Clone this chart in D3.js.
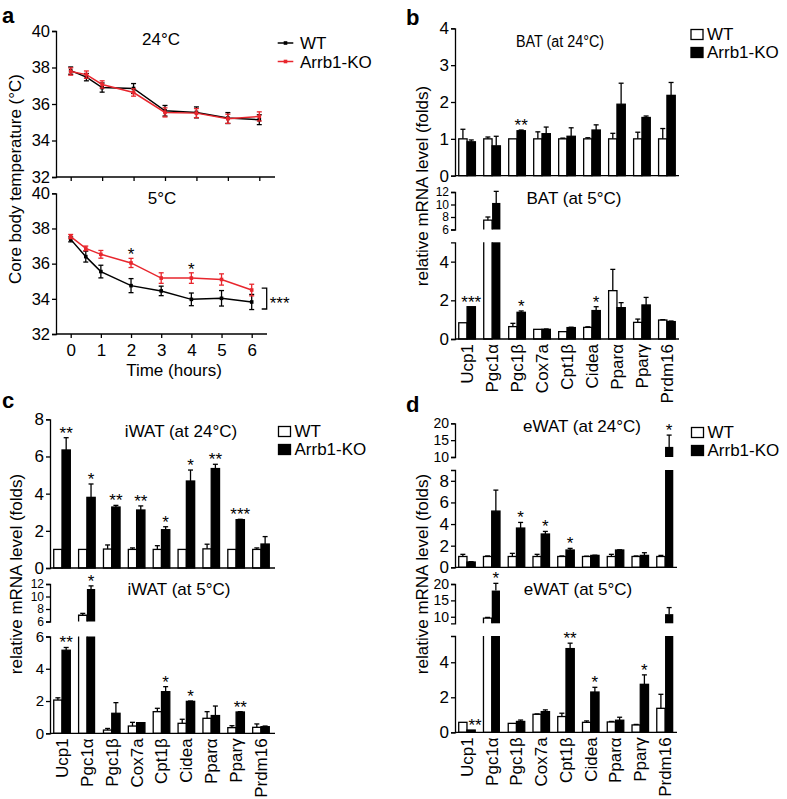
<!DOCTYPE html>
<html><head><meta charset="utf-8">
<script src="https://cdn.jsdelivr.net/npm/d3@7"></script>
<style>body{margin:0;background:#fff} svg text{font-family:"Liberation Sans",Arial,Helvetica,sans-serif;}</style>
</head><body>
<svg id="fig" width="787" height="799"></svg>
<script>
// ---------- Panel a data ----------
const timeA = [0, 0.5, 1, 2, 3, 4, 5, 6];
const timeTicks = [0, 1, 2, 3, 4, 5, 6];
const tempTicks = [32, 34, 36, 38, 40];
const wt24 = [37.83, 37.47, 36.9, 36.85, 35.63, 35.54, 35.23, 35.14];
const wt24Err = [0.2, 0.2, 0.25, 0.27, 0.29, 0.3, 0.3, 0.27];
const ko24 = [37.78, 37.61, 37.07, 36.63, 35.54, 35.5, 35.19, 35.32];
const ko24Err = [0.2, 0.2, 0.2, 0.2, 0.25, 0.25, 0.25, 0.25];
const wt5 = [37.38, 36.4, 35.55, 34.75, 34.45, 33.97, 34.03, 33.82];
const wt5Err = [0.14, 0.31, 0.36, 0.4, 0.27, 0.36, 0.44, 0.43];
const ko5 = [37.54, 36.87, 36.53, 36.04, 35.18, 35.18, 35.1, 34.5];
const ko5Err = [0.12, 0.13, 0.22, 0.26, 0.3, 0.3, 0.32, 0.33];
const sig5 = ["", "", "", "*", "", "*", "", ""];
const seriesNames = ["WT", "Arrb1-KO"];

// ---------- Bar panels data ----------
const genes = ["Ucp1", "Pgc1\u03b1", "Pgc1\u03b2", "Cox7a", "Cpt1\u03b2", "Cidea", "Ppar\u03b1", "Ppar\u03b3", "Prdm16"];

const batWt24 = [1, 1, 1, 1, 1, 1, 1, 1, 1];
const batWt24Err = [0.26, 0.05, 0, 0.19, 0.02, 0.03, 0.15, 0.18, 0.28];
const batKo24 = [0.92, 0.81, 1.22, 1.14, 1.07, 1.24, 1.94, 1.58, 2.18];
const batKo24Err = [0.05, 0.26, 0.02, 0.18, 0.23, 0.14, 0.57, 0.04, 0.35];
const batSig24 = ["", "", "**", "", "", "", "", "", ""];

const batWt5 = [0.84, 7.5, 0.64, 0.5, 0.38, 0.6, 2.5, 0.86, 0.98];
const batWt5Err = [0, 0.5, 0.17, 0, 0, 0.03, 1.1, 0.17, 0.02];
const batKo5 = [1.67, 10.25, 1.38, 0.5, 0.59, 1.47, 1.62, 1.76, 0.9];
const batKo5Err = [0, 1.85, 0.07, 0.02, 0.02, 0.2, 0.26, 0.39, 0.03];
const batSig5 = ["***", "", "*", "", "", "*", "", "", ""];

const iwatWt24 = [1, 1, 1.02, 1, 1, 1, 1.03, 1, 1];
const iwatWt24Err = [0, 0, 0.22, 0.08, 0.2, 0, 0.25, 0, 0.08];
const iwatKo24 = [6.35, 3.8, 3.28, 3.12, 2.06, 4.68, 5.35, 2.6, 1.29];
const iwatKo24Err = [0.66, 0.72, 0.09, 0.22, 0.16, 0.59, 0.23, 0.02, 0.4];
const iwatSig24 = ["**", "*", "**", "**", "*", "*", "**", "***", ""];

const iwatWt5 = [2.06, 7.0, 0.2, 0.45, 1.34, 0.62, 0.93, 0.35, 0.37];
const iwatWt5Err = [0.14, 0.3, 0.1, 0.23, 0.21, 0.25, 0.41, 0.12, 0.21];
const iwatKo5 = [5.15, 11.2, 1.24, 0.66, 2.58, 1.98, 1.1, 1.32, 0.41];
const iwatKo5Err = [0.17, 0.5, 0.66, 0, 0.31, 0.02, 0.59, 0.02, 0.04];
const iwatSig5 = ["**", "*", "", "", "*", "*", "", "**", ""];

const ewatWt24 = [1, 1, 1, 1, 1, 1, 1, 1, 1];
const ewatWt24Err = [0.2, 0.05, 0.29, 0.2, 0.05, 0.03, 0.2, 0.05, 0.1];
const ewatKo24 = [0.49, 5.2, 3.63, 3.08, 1.6, 1.1, 1.6, 1.1, 13];
const ewatKo24Err = [0.03, 1.94, 0.52, 0.24, 0.15, 0.02, 0.02, 0.25, 3.5];
const ewatSig24 = ["", "", "*", "*", "*", "", "", "", "*"];

const ewatWt5 = [0.57, 9.6, 0.51, 1.03, 0.9, 0.57, 0.59, 0.42, 1.37];
const ewatWt5Err = [0, 0.2, 0, 0.02, 0.19, 0.08, 0.03, 0.03, 0.8];
const ewatKo5 = [0.13, 18, 0.62, 1.18, 4.78, 2.3, 0.69, 2.74, 10.8];
const ewatKo5Err = [0, 2.2, 0.08, 0.1, 0.31, 0.27, 0.17, 0.54, 2.0];
const ewatSig5 = ["**", "*", "", "", "**", "*", "", "*", ""];

// ---------- drawing ----------
const FONT = '"Liberation Sans", Arial, Helvetica, sans-serif';
const FS = 17;
const SW = 1.3;
const RED = "#e8262d";
const svg = d3.select("#fig");

function styleAxis(sel, fs) {
  sel.attr("font-size", fs || FS).attr("font-family", FONT);
  sel.selectAll("path,line").attr("stroke", "#000").attr("stroke-width", SW);
  sel.selectAll("text").attr("fill", "#000");
}

function text(x, y, s, opts = {}) {
  const t = svg.append("text").attr("x", x).attr("y", y).text(s)
    .attr("font-size", opts.size || FS).attr("fill", "#000")
    .attr("text-anchor", opts.anchor || "start");
  if (opts.bold) t.attr("font-weight", "bold");
  if (opts.len) t.attr("textLength", opts.len).attr("lengthAdjust", "spacingAndGlyphs");
  return t;
}

function vtext(x, y, s) {
  svg.append("text").attr("transform", `translate(${x},${y}) rotate(-90)`)
    .attr("text-anchor", "middle").attr("font-size", FS).attr("fill", "#000").text(s);
}

// ----- Panel a -----
function linePanel(cfg) {
  const x = d3.scaleLinear().domain([0, 6]).range(cfg.xr);
  const y = d3.scaleLinear().domain([32, 40]).range(cfg.yr);
  const g = svg.append("g");
  g.append("g").attr("transform", `translate(${cfg.axisX},0)`)
    .call(d3.axisLeft(y).tickValues(tempTicks).tickSize(4).tickSizeOuter(4).tickPadding(2))
    .call(s => styleAxis(s, 16.5));
  const xa = g.append("g").attr("transform", `translate(0,${y(32)})`)
    .call(d3.axisBottom(x).tickValues(timeTicks).tickSize(4).tickSizeOuter(0).tickPadding(6)
      .tickFormat(cfg.labels ? d3.format("d") : () => ""))
    .call(s => styleAxis(s));
  xa.select(".domain").remove();
  g.append("line").attr("x1", cfg.axisX).attr("x2", cfg.xEnd).attr("y1", y(32)).attr("y2", y(32))
    .attr("stroke", "#000").attr("stroke-width", SW);

  const series = [
    { v: cfg.wt, e: cfg.wtErr, c: "#000" },
    { v: cfg.ko, e: cfg.koErr, c: RED }
  ];
  series.forEach(s => {
    const pts = timeA.map((t, i) => ({ t, v: s.v[i], e: s.e[i] }));
    g.append("path").datum(pts)
      .attr("d", d3.line().x(d => x(d.t)).y(d => y(d.v)))
      .attr("fill", "none").attr("stroke", s.c).attr("stroke-width", 1.5);
    const eb = g.append("g").selectAll("g").data(pts).join("g");
    eb.append("line").attr("x1", d => x(d.t)).attr("x2", d => x(d.t))
      .attr("y1", d => y(d.v - d.e)).attr("y2", d => y(d.v + d.e))
      .attr("stroke", s.c).attr("stroke-width", 1.3);
    [-1, 1].forEach(sg => {
      eb.append("line").attr("x1", d => x(d.t) - 2.5).attr("x2", d => x(d.t) + 2.5)
        .attr("y1", d => y(d.v + sg * d.e)).attr("y2", d => y(d.v + sg * d.e))
        .attr("stroke", s.c).attr("stroke-width", 1.3);
    });
    eb.append("rect").attr("x", d => x(d.t) - 1.8).attr("y", d => y(d.v) - 1.8)
      .attr("width", 3.6).attr("height", 3.6).attr("fill", s.c);
  });
  if (cfg.sig) {
    timeA.forEach((t, i) => {
      if (cfg.sig[i]) text(x(t), y(cfg.ko[i] + cfg.koErr[i]) - 8 + 10, cfg.sig[i], { anchor: "middle" });
    });
    const bx = x(6) + 10, y1 = y(cfg.ko[7]) - 2, y2 = y(cfg.wt[7]) + 7;
    g.append("path").attr("d", `M${bx},${y1}H${bx + 5}V${y2}H${bx}`)
      .attr("fill", "none").attr("stroke", "#000").attr("stroke-width", SW);
    text(bx + 8, (y1 + y2) / 2 + 10, "***");
  }
  text(cfg.titleX, cfg.titleY, cfg.title, { anchor: "middle" });
  return { x, y };
}

linePanel({ xr: [70.7, 259.3], yr: [177, 31], axisX: 56, xEnd: 275, labels: false,
  wt: wt24, wtErr: wt24Err, ko: ko24, koErr: ko24Err, title: "24\u00b0C", titleX: 161, titleY: 45 });
linePanel({ xr: [70.7, 251.7], yr: [334, 193.3], axisX: 56, xEnd: 267, labels: true,
  wt: wt5, wtErr: wt5Err, ko: ko5, koErr: ko5Err, sig: sig5, title: "5\u00b0C", titleX: 162, titleY: 203.5 });
text(174, 376, "Time (hours)", { anchor: "middle" });
vtext(21, 179, "Core body temperature (\u00b0C)");
[[seriesNames[0], "#000", 43], [seriesNames[1], RED, 61.5]].forEach(([n, c, yy]) => {
  svg.append("line").attr("x1", 277.7).attr("x2", 293.3).attr("y1", yy).attr("y2", yy).attr("stroke", c).attr("stroke-width", 1.5);
  svg.append("rect").attr("x", 285.5 - 1.8).attr("y", yy - 1.8).attr("width", 3.6).attr("height", 3.6).attr("fill", c);
  text(300, yy + 6, n);
});

// ----- Bar panels -----
function barPanel(cfg) {
  const xb = d3.scaleBand().domain(genes).range(cfg.band).paddingInner(0.333).paddingOuter(0.15);
  const bw = xb.bandwidth() / 2;
  const segs = cfg.segs.map(s => Object.assign({}, s, { sc: d3.scaleLinear().domain(s.domain).range(s.range) }));
  const lower = segs[0], upper = segs[1];
  const g = svg.append("g");
  segs.forEach((s, si) => {
    g.append("g").attr("transform", `translate(${cfg.axisX},0)`)
      .call(d3.axisLeft(s.sc).tickValues(s.ticks).tickSize(4).tickSizeOuter(4).tickPadding(2).tickFormat(d3.format("d")))
      .call(sel => styleAxis(sel, s.fs));
  });
  const y0 = lower.sc(0);
  const scaleFor = v => (upper && v > lower.domain[1]) ? upper.sc : lower.sc;

  const series = [
    { v: cfg.wt, e: cfg.wtErr, fill: "#fff", off: 0 },
    { v: cfg.ko, e: cfg.koErr, fill: "#000", off: bw }
  ];
  series.forEach(s => {
    genes.forEach((gname, i) => {
      const v = s.v[i], e = s.e[i];
      const x = xb(gname) + s.off;
      const broken = upper && v > lower.domain[1];
      if (!broken) {
        g.append("rect").attr("x", x).attr("y", lower.sc(v)).attr("width", bw).attr("height", y0 - lower.sc(v))
          .attr("fill", s.fill).attr("stroke", "#000").attr("stroke-width", SW);
      } else {
        const lt = lower.sc(lower.domain[1]);
        const ub = upper.sc(upper.domain[0]), ut = upper.sc(v);
        if (s.fill === "#000") {
          g.append("rect").attr("x", x).attr("y", lt).attr("width", bw).attr("height", y0 - lt).attr("fill", "#000");
          g.append("rect").attr("x", x).attr("y", ut).attr("width", bw).attr("height", ub - ut).attr("fill", "#000");
        } else {
          g.append("path").attr("d", `M${x},${lt}V${y0}H${x + bw}V${lt}`)
            .attr("fill", "#fff").attr("stroke", "#000").attr("stroke-width", SW);
          g.append("path").attr("d", `M${x},${ub}V${ut}H${x + bw}V${ub}`)
            .attr("fill", "#fff").attr("stroke", "#000").attr("stroke-width", SW);
        }
      }
      if (e > 0) {
        const sc = scaleFor(v);
        const cx = x + bw / 2;
        g.append("line").attr("x1", cx).attr("x2", cx).attr("y1", sc(v)).attr("y2", sc(v + e))
          .attr("stroke", "#000").attr("stroke-width", SW);
        g.append("line").attr("x1", cx - 2.5).attr("x2", cx + 2.5).attr("y1", sc(v + e)).attr("y2", sc(v + e))
          .attr("stroke", "#000").attr("stroke-width", SW);
      }
    });
  });
  genes.forEach((gname, i) => {
    const lab = cfg.sig[i];
    if (!lab) return;
    const top = cfg.ko[i] + cfg.koErr[i];
    const yy = scaleFor(cfg.ko[i])(top) - 9 + 10;
    const dx = (cfg.ko[i] < 0.3) ? 4 : 0;
    text(xb(gname) + bw * 1.5 + dx, yy, lab, { anchor: "middle" });
  });
  g.append("line").attr("x1", cfg.axisX).attr("x2", cfg.xEnd).attr("y1", y0).attr("y2", y0)
    .attr("stroke", "#000").attr("stroke-width", SW);
  if (cfg.labels) {
    genes.forEach(gname => {
      svg.append("text").attr("transform", `translate(${xb(gname) + bw},${y0 + 5}) rotate(-90)`)
        .attr("text-anchor", "end").attr("dy", "0.35em").attr("font-size", FS).attr("fill", "#000").text(gname);
    });
  }
  text(cfg.titleX, cfg.titleY, cfg.title, { anchor: "middle", len: cfg.titleLen, size: cfg.titleSize });
}

function legend(x, y1, y2) {
  [[seriesNames[0], "#fff", y1], [seriesNames[1], "#000", y2]].forEach(([n, f, yy]) => {
    svg.append("rect").attr("x", x).attr("y", yy).attr("width", 12).attr("height", 10)
      .attr("fill", f).attr("stroke", "#000").attr("stroke-width", SW);
    text(x + 16, yy + 10.5, n);
  });
}

// b
barPanel({ wt: batWt24, wtErr: batWt24Err, ko: batKo24, koErr: batKo24Err, sig: batSig24,
  axisX: 455, xEnd: 679, band: [455, 679],
  segs: [{ domain: [0, 4], range: [175.7, 28.3], ticks: [0, 1, 2, 3, 4] }],
  title: "BAT (at 24\u00b0C)", titleX: 560, titleY: 47, titleLen: 88, titleSize: 16 });
barPanel({ wt: batWt5, wtErr: batWt5Err, ko: batKo5, koErr: batKo5Err, sig: batSig5,
  axisX: 455, xEnd: 679, band: [455, 679], labels: true,
  segs: [{ domain: [0, 5], range: [339, 242.3], ticks: [0, 2, 4] },
         { domain: [6, 12], range: [229.5, 192], ticks: [6, 8, 10, 12], fs: 12 }],
  title: "BAT (at 5\u00b0C)", titleX: 574, titleY: 203.5 });
legend(691, 29.5, 47.5);
vtext(428, 186, "relative mRNA level (folds)");

// c
barPanel({ wt: iwatWt24, wtErr: iwatWt24Err, ko: iwatKo24, koErr: iwatKo24Err, sig: iwatSig24,
  axisX: 50, xEnd: 275, band: [50, 273],
  segs: [{ domain: [0, 8], range: [568, 419.3], ticks: [0, 2, 4, 6, 8] }],
  title: "iWAT (at 24\u00b0C)", titleX: 181, titleY: 437 });
barPanel({ wt: iwatWt5, wtErr: iwatWt5Err, ko: iwatKo5, koErr: iwatKo5Err, sig: iwatSig5,
  axisX: 50, xEnd: 275, band: [50, 273], labels: true,
  segs: [{ domain: [0, 6], range: [733.3, 636.5], ticks: [0, 2, 4, 6], fs: 15 },
         { domain: [6, 12], range: [621.5, 584], ticks: [6, 8, 10, 12], fs: 12 }],
  title: "iWAT (at 5\u00b0C)", titleX: 179, titleY: 595 });
legend(278.5, 426.5, 444.5);
vtext(22, 574, "relative mRNA level (folds)");

// d
barPanel({ wt: ewatWt24, wtErr: ewatWt24Err, ko: ewatKo24, koErr: ewatKo24Err, sig: ewatSig24,
  axisX: 455, xEnd: 677, band: [455, 677],
  segs: [{ domain: [0, 9], range: [567.3, 470], ticks: [0, 2, 4, 6, 8] },
         { domain: [10, 20], range: [457, 423.3], ticks: [10, 15, 20], fs: 14 }],
  title: "eWAT (at 24\u00b0C)", titleX: 582, titleY: 432 });
barPanel({ wt: ewatWt5, wtErr: ewatWt5Err, ko: ewatKo5, koErr: ewatKo5Err, sig: ewatSig5,
  axisX: 455, xEnd: 677, band: [455, 677], labels: true,
  segs: [{ domain: [0, 5.5], range: [732.3, 636], ticks: [0, 2, 4] },
         { domain: [8, 20], range: [623.3, 584], ticks: [10, 15, 20], fs: 14 }],
  title: "eWAT (at 5\u00b0C)", titleX: 578, titleY: 595 });
legend(691.5, 427.5, 445.5);
vtext(428, 574, "relative mRNA level (folds)");

// panel letters
text(2, 23, "a", { size: 22, bold: true });
text(406, 25, "b", { size: 22, bold: true });
text(2, 408, "c", { size: 22, bold: true });
text(406, 412, "d", { size: 22, bold: true });
</script>
</body></html>
